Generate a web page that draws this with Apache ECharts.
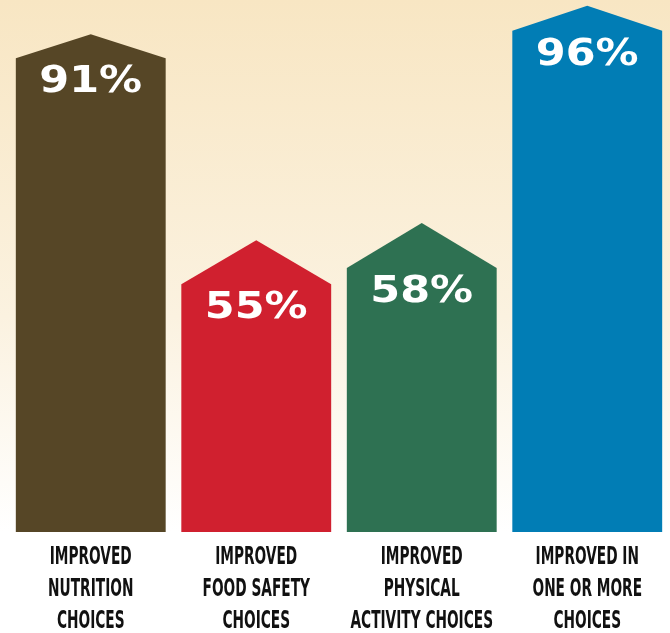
<!DOCTYPE html>
<html>
<head>
<meta charset="utf-8">
<script src="https://cdn.jsdelivr.net/npm/echarts@6/dist/echarts.min.js"></script>
<style>
html,body{margin:0;padding:0;background:#fff;}
#chart{width:670px;height:633px;}
</style>
</head>
<body>
<div id="chart"></div>
<script>
const categories = [
  'IMPROVED\nNUTRITION\nCHOICES',
  'IMPROVED\nFOOD SAFETY\nCHOICES',
  'IMPROVED\nPHYSICAL\nACTIVITY CHOICES',
  'IMPROVED IN\nONE OR MORE\nCHOICES'
];
const values = [91, 55, 58, 96];
const valueLabels = ['91%', '55%', '58%', '96%'];

// styles
const barColors = ['#564626', '#D0202F', '#2E7152', '#017DB5'];
const roofHeights = [24, 44, 45, 25];
const Y_MIN = 4, Y_MAX = 97;

const chart = echarts.init(document.getElementById('chart'), null, {renderer: 'canvas'});
chart.setOption({
  animation: false,
  graphic: [{
    type: 'rect', left: 0, top: 0, z: -10,
    shape: {width: 670, height: 633},
    style: {
      fill: new echarts.graphic.LinearGradient(0, 0, 0, 1, [
        {offset: 0, color: '#F8E6C3'},
        {offset: 0.5, color: '#FBF2E0'},
        {offset: 0.84, color: '#FFFFFF'},
        {offset: 1, color: '#FFFFFF'}
      ])
    }
  }],
  grid: {left: 8, top: 0, width: 664.5, bottom: 101},
  xAxis: {type: 'category', data: categories, show: false},
  yAxis: {type: 'value', min: Y_MIN, max: Y_MAX, show: false},
  series: [{
    type: 'custom',
    data: values.map((v, i) => [i, v]),
    renderItem: function (params, api) {
      const i = params.dataIndex;
      const x = api.value(0);
      const v = api.value(1);
      const top = api.coord([x, v]);
      const base = api.coord([x, Y_MIN]);
      const band = api.size([1, 0])[0];
      const w = band * 150.4 / 166.1;
      const roof = roofHeights[i];
      const cx = top[0];
      const l = cx - w / 2, r = cx + w / 2;
      const sh = top[1] + roof;
      return {
        type: 'group',
        children: [
          {
            type: 'polygon',
            shape: {points: [[l, base[1]], [l, sh], [cx, top[1]], [r, sh], [r, base[1]]]},
            style: {fill: barColors[i]}
          },
          {
            type: 'text',
            x: cx, y: sh + 24, scaleX: 1.13,
            style: {
              text: valueLabels[i], fill: '#ffffff',
              font: 'bold 38px "DejaVu Sans", sans-serif',
              align: 'center', verticalAlign: 'middle'
            }
          },
          {
            type: 'text',
            x: cx, y: base[1] + 9, scaleX: 0.61,
            style: {
              text: categories[i], fill: '#111111',
              font: 'bold 25px "Liberation Sans Narrow", "DejaVu Sans Condensed", sans-serif',
              lineHeight: 32,
              align: 'center', verticalAlign: 'top'
            }
          }
        ]
      };
    }
  }]
});
</script>
</body>
</html>
